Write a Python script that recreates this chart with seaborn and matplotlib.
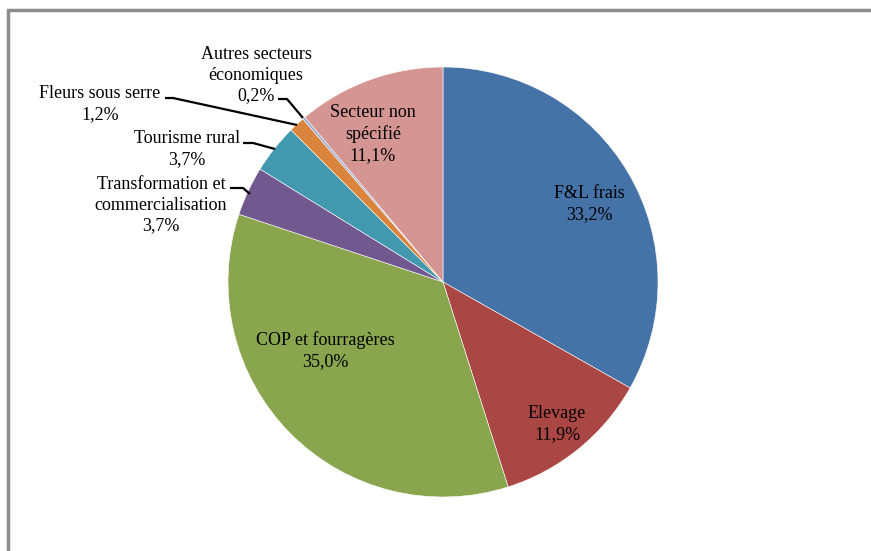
import matplotlib
matplotlib.use("Agg")
import matplotlib.pyplot as plt
import seaborn as sns
from matplotlib.patches import Rectangle

# Data
labels = ["F&L frais", "Elevage", "COP et fourragères",
          "Transformation et\ncommercialisation", "Tourisme rural",
          "Fleurs sous serre", "Autres secteurs\néconomiques",
          "Secteur non\nspécifié"]
values = [33.2, 11.9, 35.0, 3.7, 3.7, 1.2, 0.2, 11.1]
colors = ["#4572A7", "#AA4643", "#89A54E", "#71588F",
          "#4198AF", "#DB843D", "#93A9CF", "#D49593"]

sns.set_theme(style="white")
plt.rcParams['font.family'] = ['Liberation Serif', 'DejaVu Serif']

W, H = 871, 551
fig = plt.figure(figsize=(W / 100, H / 100), dpi=100)
ax = fig.add_axes([0, 0, 1, 1])

cx, cy, r = 443, H - 282, 215
ax.pie(values, colors=colors, startangle=90, counterclock=False,
       center=(cx, cy), radius=r, frame=True,
       wedgeprops=dict(linewidth=0.4, edgecolor='white'))
ax.set_xlim(0, W)
ax.set_ylim(0, H)
ax.set_aspect('equal')
ax.axis('off')

# frame (partially cropped in reference)
ax.add_patch(Rectangle((7.5, -20), W + 20, H - 9.5 + 20, fill=False,
                       edgecolor='#8C8C8C', linewidth=2.5, clip_on=False))

def pct(v):
    return f"{v:.1f}%".replace('.', ',')

# label positions (pixel centres, y from top)
pos = [(589, 204), (557, 424), (325, 351), (161, 205),
       (187, 149), (100, 104), (256, 75), (373, 134)]
for lab, v, (x, y) in zip(labels, values, pos):
    ax.text(x, H - y, lab + "\n" + pct(v), ha='center', va='center',
            fontsize=13, color='black', linespacing=1.3)

# leader lines for small slices
leaders = [
    [(230, 188), (243, 188), (250, 194)],
    [(243, 143), (253, 143), (275, 149)],
    [(165, 98), (173, 98), (297, 125)],
    [(278, 99), (287, 99), (303, 118)],
]
for pts in leaders:
    xs = [p[0] for p in pts]
    ys = [H - p[1] for p in pts]
    ax.plot(xs, ys, color='black', linewidth=1.6, solid_capstyle='butt')

fig.savefig("out.png", dpi=100, facecolor='white')
